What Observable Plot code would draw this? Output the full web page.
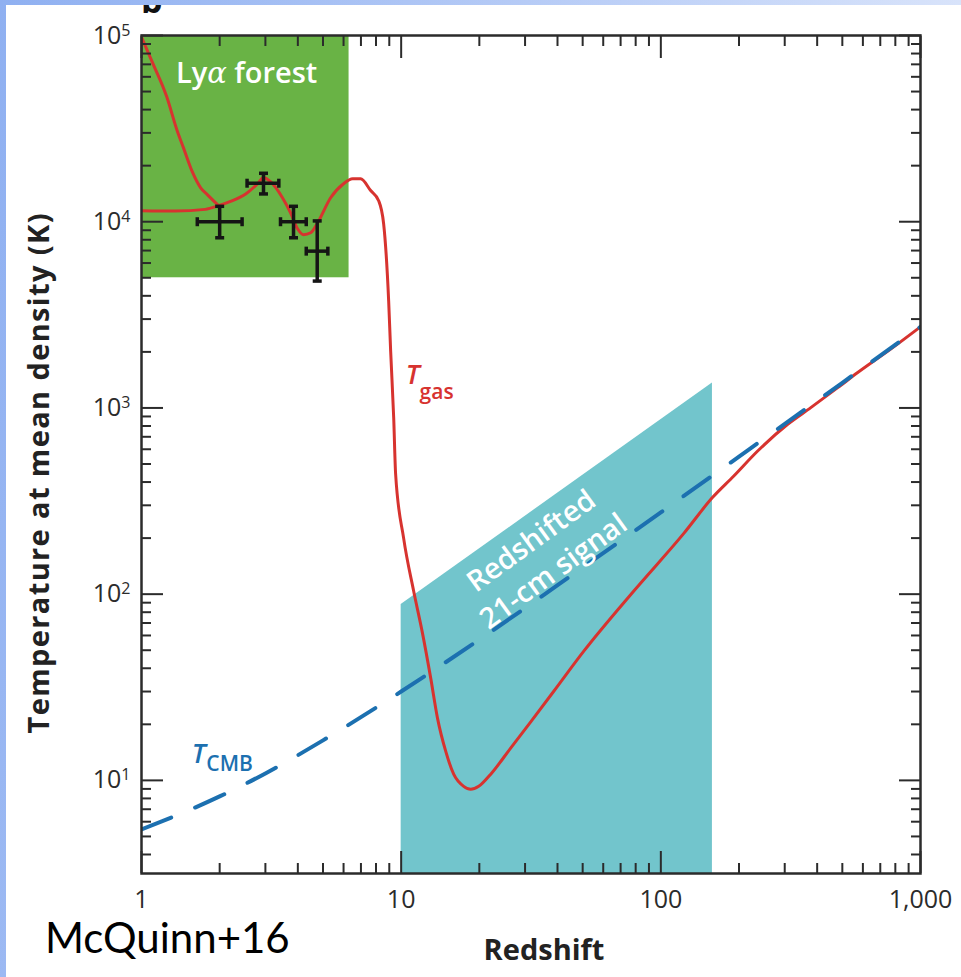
<!DOCTYPE html>
<html>
<head>
<meta charset="utf-8">
<script src="https://cdn.jsdelivr.net/npm/d3@7"></script>
<script src="https://cdn.jsdelivr.net/npm/@observablehq/plot@0.6"></script>
<style>
html, body { margin: 0; padding: 0; }
body { width: 961px; height: 977px; overflow: hidden; position: relative;
  background: linear-gradient(100deg, #8fb0f1 0%, #bdd0f7 55%, #e6edfc 100%); }
#sheet { position: absolute; left: 6px; top: 5px; right: 0; bottom: 0; background: #fff; overflow: hidden; }
#panel { position: absolute; left: 135px; top: -22px; font: 700 34px 'Open Sans', sans-serif; line-height: 1; color: #111; }
#chart { position: absolute; left: 0; top: 0; }
#credit { position: absolute; left: 45px; top: 916px; font: 400 42px Lato, 'Open Sans', sans-serif; line-height: 1; color: #000; white-space: nowrap; }
</style>
</head>
<body>
<div id="sheet"><div id="panel">b</div></div>
<div id="chart"></div>
<div id="credit">McQuinn+16</div>
<script>
// ---- data ----
// Gas temperature (main history), redshift vs K
const tgasZ = [1.00, 1.35, 1.76, 1.98, 2.20, 2.52, 2.80, 2.95, 3.14, 3.49, 3.75, 3.99, 4.21, 4.48, 4.77, 5.35, 6.0, 6.5, 6.98, 7.63, 8.19, 8.56, 8.95, 9.11, 9.36, 9.52, 10.22, 11.17, 12.1, 13.0, 13.8, 14.85, 15.93, 17.41, 18.53, 19.89, 22.13, 26.4, 31.6, 38.7, 50.5, 78.7, 122.6, 158, 191, 236, 308, 378, 480, 573, 770, 1000];
const tgasT = [11460, 11400, 11650, 12200, 12850, 14100, 16000, 17300, 16400, 13450, 11170, 9160, 8510, 8720, 9880, 13450, 16000, 17000, 17000, 14700, 12970, 9750, 3760, 2020, 883, 442, 200, 104, 61, 35.3, 21.6, 14.3, 10.8, 9.29, 8.95, 9.29, 10.8, 14.9, 20.7, 30.1, 49.4, 104, 212, 330, 431, 587, 817, 1004, 1285, 1549, 2076, 2728];
// Low-redshift hot branch of T_gas
const branchZ = [1.00, 1.11, 1.25, 1.37, 1.45, 1.57, 1.69, 1.80, 1.98];
const branchT = [98000, 70000, 47000, 31000, 25000, 18500, 15200, 13900, 12200];
// CMB temperature (dashed)
const tcmbZ = [1, 2, 3, 5, 10, 20, 50, 100, 200, 500, 1000];
const tcmbT = [5.45, 8.2, 10.9, 16.4, 30, 57, 139, 275, 548, 1365, 2728];
// Lyman-alpha forest measurements with error bars
const obsZ   = [2.00, 2.95, 3.85, 4.75];
const obsZlo = [1.64, 2.55, 3.43, 4.31];
const obsZhi = [2.44, 3.38, 4.31, 5.22];
const obsT   = [10000, 16100, 10000, 6950];
const obsTlo = [8200, 14100, 8200, 4800];
const obsThi = [12100, 18200, 12100, 10100];
// Shaded regions
const lyaZ = [1, 6.3];       const lyaT = [5000, 100000];
const sigZ = [10, 158];      const sigTop = [88, 1360];
// Annotation anchors (data units)
const labelZ = [2.54, 34.5, 11.07, 1.659];
const labelT = [62500, 164, 1504, 13.8];
// Axis ticks
const xMajor = [1, 10, 100, 1000];
const xMinor = [2, 3, 4, 5, 6, 7, 8, 9, 20, 30, 40, 50, 60, 70, 80, 90, 200, 300, 400, 500, 600, 700, 800, 900];
const yMajor = [10, 100, 1000, 10000, 100000];
const yMinor = [4, 5, 6, 7, 8, 9, 20, 30, 40, 50, 60, 70, 80, 90, 200, 300, 400, 500, 600, 700, 800, 900,
  2000, 3000, 4000, 5000, 6000, 7000, 8000, 9000, 20000, 30000, 40000, 50000, 60000, 70000, 80000, 90000];
const yDomain = [3.162, 100000];

// ---- tables ----
const tgas = tgasZ.map((z, i) => ({z, T: tgasT[i]}));
const branch = branchZ.map((z, i) => ({z, T: branchT[i]}));
const tcmb = tcmbZ.map((z, i) => ({z, T: tcmbT[i]}));
const obs = obsZ.map((z, i) => ({z, zlo: obsZlo[i], zhi: obsZhi[i], T: obsT[i], Tlo: obsTlo[i], Thi: obsThi[i]}));
const sig = sigZ.map((z, i) => ({z, top: sigTop[i], bottom: yDomain[0]}));
const lab = labelZ.map((z, i) => ({z, T: labelT[i]}));

const green = "#69b345", cyan = "#72c5cc", red = "#d7332f", blue = "#1c70b0", ink = "#151515", axisInk = "#2b2b2b";
const hCap = {draw(ctx) { ctx.moveTo(-4.5, 0); ctx.lineTo(4.5, 0); }};
const vCap = {draw(ctx) { ctx.moveTo(0, -4.5); ctx.lineTo(0, 4.5); }};
const tickOpts = {fill: "none", stroke: axisInk, strokeWidth: 2, label: null};

const chart = Plot.plot({
  width: 961, height: 977,
  marginLeft: 141, marginRight: 41, marginTop: 35, marginBottom: 104,
  x: {type: "log", domain: [1, 1000]},
  y: {type: "log", domain: yDomain},
  style: {background: "none", fontFamily: "'Open Sans', sans-serif", color: axisInk, overflow: "visible"},
  marks: [
    Plot.rect([0], {x1: lyaZ[0], x2: lyaZ[1], y1: lyaT[0], y2: lyaT[1], fill: green}),
    Plot.areaY(sig, {x: "z", y1: "bottom", y2: "top", fill: cyan}),
    Plot.line(tgas, {x: "z", y: "T", stroke: red, strokeWidth: 3, curve: "monotone-x", clip: true}),
    Plot.line(branch, {x: "z", y: "T", stroke: red, strokeWidth: 3, curve: "monotone-x", clip: true}),
    Plot.line(tcmb, {x: "z", y: "T", stroke: blue, strokeWidth: 4, strokeDasharray: "32,26", curve: "monotone-x", clip: true}),
    Plot.ruleY(obs, {y: "T", x1: "zlo", x2: "zhi", stroke: ink, strokeWidth: 3.5}),
    Plot.ruleX(obs, {x: "z", y1: "Tlo", y2: "Thi", stroke: ink, strokeWidth: 3.5}),
    Plot.dot(obs, {x: "z", y: "Tlo", symbol: hCap, stroke: ink, strokeWidth: 3.5, fill: "none"}),
    Plot.dot(obs, {x: "z", y: "Thi", symbol: hCap, stroke: ink, strokeWidth: 3.5, fill: "none"}),
    Plot.dot(obs, {x: "zlo", y: "T", symbol: vCap, stroke: ink, strokeWidth: 3.5, fill: "none"}),
    Plot.dot(obs, {x: "zhi", y: "T", symbol: vCap, stroke: ink, strokeWidth: 3.5, fill: "none"}),
    // annotations
    Plot.text([lab[0]], {x: "z", y: "T", text: () => "Lyα forest", fill: "white", fontSize: 29, fontWeight: 600}),
    Plot.text([lab[1]], {x: "z", y: "T", text: () => "Redshifted\n21-cm signal", rotate: -36, lineHeight: 1.3, fill: "white", fontSize: 29, fontWeight: 600}),
    Plot.text([lab[2]], {x: "z", y: "T", text: () => "T", fill: red, fontSize: 27, fontWeight: 600, fontStyle: "italic"}),
    Plot.text([lab[2]], {x: "z", y: "T", text: () => "gas", dx: 24, dy: 17, fill: red, fontSize: 21, fontWeight: 600}),
    Plot.text([lab[3]], {x: "z", y: "T", text: () => "T", fill: blue, fontSize: 27, fontWeight: 600, fontStyle: "italic"}),
    Plot.text([lab[3]], {x: "z", y: "T", text: () => "CMB", dx: 31, dy: 10, fill: blue, fontSize: 21, fontWeight: 600}),
    // axes (inward ticks on all four sides)
    Plot.axisX(xMinor, {anchor: "bottom", tickSize: -10, ...tickOpts}),
    Plot.axisX(xMajor, {anchor: "bottom", tickSize: -22, ...tickOpts}),
    Plot.axisX(xMinor, {anchor: "top", tickSize: -10, ...tickOpts}),
    Plot.axisX(xMajor, {anchor: "top", tickSize: -22, ...tickOpts}),
    Plot.axisY(yMinor, {anchor: "left", tickSize: -10, ...tickOpts}),
    Plot.axisY(yMajor, {anchor: "left", tickSize: -22, ...tickOpts}),
    Plot.axisY(yMinor, {anchor: "right", tickSize: -10, ...tickOpts}),
    Plot.axisY(yMajor, {anchor: "right", tickSize: -22, ...tickOpts}),
    Plot.axisX(xMajor, {anchor: "bottom", tickSize: 0, tickPadding: 17, stroke: "none", fill: axisInk, fontSize: 25, tickFormat: d3.format(","), label: null}),
    Plot.axisY(yMajor, {anchor: "left", tickSize: 0, tickPadding: 11, stroke: "none", fill: axisInk, fontSize: 25, tickFormat: d => "10^" + Math.round(Math.log10(d)), label: null}),
    Plot.frame({stroke: axisInk, strokeWidth: 2.5}),
    // axis titles
    Plot.text(["Redshift"], {text: d => d, frameAnchor: "bottom", textAnchor: "middle", lineAnchor: "middle", dx: 13, dy: 77, fontSize: 29, fontWeight: 700, fill: "#222"}),
    Plot.text(["Temperature at mean density (K)"], {text: d => d, frameAnchor: "left", textAnchor: "middle", lineAnchor: "middle", rotate: -90, dx: -102, dy: 19, fontSize: 29, fontWeight: 700, fill: "#222"})
  ]
});

// superscript exponents on y tick labels
d3.select(chart).selectAll('g[aria-label="y-axis tick label"] text').each(function() {
  const parts = this.textContent.split("^");
  if (parts.length === 2) {
    const t = d3.select(this);
    t.text(null);
    t.append("tspan").text(parts[0]);
    t.append("tspan").attr("dy", "-0.5em").attr("font-size", "0.64em").text(parts[1]);
  }
});
d3.select(chart).selectAll("text").each(function() {
  // italic alpha in the Lyα label
  if (this.textContent === "Lyα forest") {
    const t = d3.select(this);
    t.text(null);
    t.append("tspan").text("Ly");
    t.append("tspan").attr("font-style", "italic").attr("font-family", "'DejaVu Serif', serif").attr("font-weight", 400).text("α");
    t.append("tspan").text(" forest");
  }
  // stretch the y-axis title to the reference's length
  if (this.textContent === "Temperature at mean density (K)") {
    d3.select(this).attr("textLength", 520).attr("lengthAdjust", "spacing");
  }
});
document.getElementById("chart").appendChild(chart);
</script>
</body>
</html>
